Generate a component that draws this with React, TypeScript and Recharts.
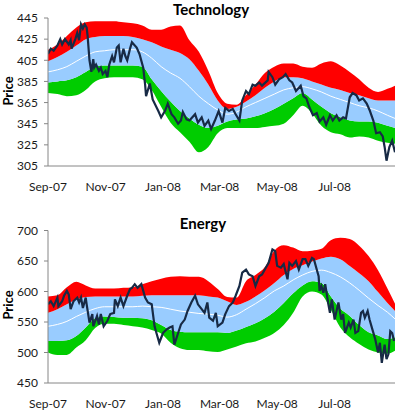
import React from 'react';
import { ComposedChart, Area, Line, XAxis, YAxis } from 'recharts';

// x values are days since 1 Sep 2007
const tickDays = [0, 61, 122, 182, 243, 304];
const tickLabels = ['Sep-07', 'Nov-07', 'Jan-08', 'Mar-08', 'May-08', 'Jul-08'];

const bandDays = [0, 10, 20, 30, 40, 50, 60, 70, 80, 90, 100, 110, 120, 130, 140, 150, 160, 170, 180, 190, 200, 210, 220, 230, 240, 250, 260, 270, 280, 290, 300, 310, 320, 330, 340, 350, 360, 368];

// Technology bands
const techLower2 = [374, 373, 371, 372, 377, 385, 388, 389, 389, 389, 387, 377, 361, 346, 337, 328, 318, 323, 336, 341, 341, 341, 341, 342, 343, 345, 353, 362, 355, 343, 337, 335, 332, 333, 332, 329, 327, 326];
const techLower1 = [384, 385, 386, 389, 394, 399, 400, 400, 400, 400, 399, 387, 376, 366, 357, 350, 344, 341, 343, 347, 349, 350, 352, 355, 359, 364, 369, 374, 368, 361, 355, 351, 348, 347, 347, 346, 343, 341];
const techMA = [394, 396, 399, 404, 409, 413, 414, 415, 415, 415, 413, 407, 399, 393, 388, 380, 371, 364, 358, 354, 356, 361, 365, 369, 373, 377, 379, 380, 378, 375, 371, 368, 365, 362, 360, 357, 353, 350];
const techUpper1 = [404, 408, 413, 419, 425, 427, 428, 428, 428, 427, 425, 422, 418, 415, 412, 406, 395, 382, 367, 359, 361, 366, 372, 379, 385, 389, 389, 388, 385, 382, 379, 377, 374, 372, 369, 367, 367, 367];
const techUpper2 = [415, 420, 428, 436, 441, 442, 442, 442, 441, 440, 438, 434, 434, 437, 438, 424, 413, 395, 374, 364, 363, 372, 382, 393, 399, 402, 402, 399, 398, 402, 404, 400, 394, 387, 379, 375, 378, 381];

const techPriceDays = [0, 3, 6, 10, 13, 15, 18, 22, 24, 25, 29, 31, 33, 35, 37, 39, 41, 42, 44, 46, 48, 49, 51, 54, 56, 58, 61, 63, 65, 68, 70, 73, 75, 77, 80, 82, 84, 87, 89, 94, 97, 101, 103, 104, 108, 111, 117, 120, 124, 127, 131, 134, 138, 141, 143, 147, 150, 156, 159, 163, 166, 170, 173, 177, 181, 185, 188, 192, 196, 199, 203, 206, 210, 213, 217, 220, 224, 227, 233, 234, 238, 241, 245, 249, 252, 256, 259, 263, 268, 271, 274, 277, 281, 285, 288, 292, 295, 299, 302, 306, 309, 313, 316, 320, 323, 327, 330, 334, 338, 341, 345, 348, 352, 355, 357, 359, 362, 365, 368];
const techPrice = [411, 416, 414, 419, 425, 420, 425, 420, 424, 416, 425, 431, 424, 439, 435, 439, 436, 428, 405, 394, 406, 398, 401, 395, 398, 392, 395, 389, 401, 409, 403, 417, 419, 403, 416, 409, 405, 416, 422, 417, 411, 398, 382, 371, 383, 368, 357, 351, 357, 364, 354, 351, 345, 348, 356, 349, 348, 354, 346, 351, 343, 348, 340, 348, 357, 346, 360, 357, 359, 354, 348, 367, 376, 373, 382, 381, 384, 381, 386, 394, 389, 382, 387, 389, 392, 386, 384, 376, 381, 371, 369, 361, 353, 355, 347, 351, 344, 353, 348, 353, 348, 351, 350, 370, 374, 372, 367, 369, 364, 358, 348, 336, 337, 333, 323, 310, 323, 329, 318];

// Energy bands
const energyLower2 = [500, 496, 496, 508, 520, 540, 547, 547, 545, 543, 541, 537, 531, 516, 507, 504, 504, 502, 501, 505, 510, 515, 518, 524, 532, 545, 565, 592, 600, 595, 570, 541, 525, 514, 505, 500, 498, 503];
const energyLower1 = [519, 519, 520, 527, 541, 556, 559, 558, 557, 557, 556, 553, 545, 537, 534, 533, 533, 533, 533, 532, 536, 542, 548, 556, 567, 581, 597, 610, 617, 614, 592, 572, 560, 545, 533, 528, 522, 525];
const energyMA = [543, 546, 551, 559, 566, 572, 575, 575, 575, 575, 576, 575, 574, 571, 568, 566, 564, 563, 561, 558, 562, 571, 580, 590, 601, 609, 619, 627, 633, 635, 631, 624, 614, 602, 589, 577, 566, 555];
const energyUpper1 = [565, 571, 579, 587, 591, 592, 592, 592, 592, 592, 593, 594, 594, 594, 594, 594, 594, 592, 590, 584, 578, 583, 592, 602, 614, 627, 637, 643, 649, 654, 657, 653, 642, 630, 617, 599, 581, 568];
const energyUpper2 = [592, 594, 607, 616, 610, 605, 605, 605, 606, 607, 612, 617, 621, 624, 625, 624, 624, 617, 604, 591, 590, 617, 627, 640, 667, 676, 672, 666, 667, 670, 684, 688, 686, 675, 658, 635, 605, 580];

const energyPriceDays = [0, 3, 6, 10, 11, 15, 17, 20, 22, 24, 27, 31, 33, 35, 37, 40, 41, 44, 47, 48, 52, 54, 56, 59, 63, 66, 70, 71, 74, 77, 80, 84, 87, 89, 92, 95, 99, 103, 106, 110, 113, 115, 118, 122, 126, 129, 132, 134, 138, 141, 145, 148, 152, 156, 159, 163, 166, 169, 171, 175, 178, 180, 185, 188, 192, 196, 199, 203, 206, 210, 213, 217, 220, 224, 227, 231, 234, 238, 241, 243, 247, 250, 254, 256, 259, 263, 266, 270, 273, 276, 280, 282, 285, 287, 288, 290, 292, 294, 297, 299, 301, 304, 308, 311, 313, 315, 319, 321, 324, 326, 329, 332, 334, 336, 339, 341, 344, 347, 350, 352, 354, 357, 359, 361, 363, 365, 367];
const energyPrice = [579, 584, 576, 590, 576, 584, 593, 601, 595, 571, 584, 590, 582, 590, 573, 590, 579, 549, 563, 543, 560, 546, 563, 543, 552, 563, 565, 587, 576, 590, 576, 593, 604, 606, 612, 606, 612, 590, 582, 579, 543, 532, 516, 532, 538, 541, 543, 513, 532, 546, 554, 568, 582, 593, 579, 571, 565, 582, 557, 552, 565, 543, 549, 563, 576, 582, 593, 609, 631, 636, 628, 625, 609, 625, 628, 639, 647, 669, 666, 642, 639, 645, 620, 647, 642, 650, 636, 653, 653, 642, 655, 653, 636, 625, 601, 609, 598, 612, 582, 565, 587, 554, 582, 554, 563, 532, 549, 541, 554, 532, 535, 565, 568, 557, 568, 554, 538, 522, 500, 516, 483, 513, 489, 497, 535, 532, 519];

const techTicks = [305, 325, 345, 365, 385, 405, 425, 445];
const energyTicks = [450, 500, 550, 600, 650, 700];

const FONT = 'Lato, "Noto Sans", sans-serif';
const AXIS = '#868686';
const RED = '#ff0000';
const BLUE = '#99ccff';
const GREEN = '#00cc00';
const NAVY = '#172a45';

function buildBands(l2: number[], l1: number[], ma: number[], u1: number[], u2: number[]) {
  return bandDays.map((day, i) => ({
    day,
    green: [l2[i], l1[i]],
    blue: [l1[i], u1[i]],
    red: [u1[i], u2[i]],
    ma: ma[i],
  }));
}

function buildPrice(days: number[], vals: number[]) {
  return days.map((day, i) => ({ day, price: vals[i] }));
}

const techBands = buildBands(techLower2, techLower1, techMA, techUpper1, techUpper2);
const techPriceData = buildPrice(techPriceDays, techPrice);
const energyBands = buildBands(energyLower2, energyLower1, energyMA, energyUpper1, energyUpper2);
const energyPriceData = buildPrice(energyPriceDays, energyPrice);

type PanelProps = {
  top: number;
  height: number;
  marginTop: number;
  marginBottom: number;
  xAxisHeight: number;
  bands: any[];
  price: any[];
  domain: [number, number];
  ticks: number[];
};

function Panel(p: PanelProps) {
  const tickStyle = { fill: '#1a1a1a', fontSize: 12, fontFamily: FONT };
  return (
    <div style={{ position: 'absolute', left: 0, top: p.top, width: 400, height: p.height }}>
      <ComposedChart
        width={400}
        height={p.height}
        margin={{ top: p.marginTop, right: 5, bottom: p.marginBottom, left: 0 }}
      >
        <XAxis
          type="number"
          dataKey="day"
          domain={[0, 368]}
          ticks={tickDays}
          allowDataOverflow
          tickFormatter={(v: number) => tickLabels[tickDays.indexOf(v)] ?? ''}
          stroke={AXIS}
          tickLine={false}
          tickSize={6}
          tickMargin={10}
          height={p.xAxisHeight}
          tick={tickStyle}
        />
        <YAxis
          type="number"
          domain={p.domain}
          ticks={p.ticks}
          allowDataOverflow
          width={48}
          stroke={AXIS}
          tickSize={4}
          tickMargin={6}
          tick={tickStyle}
        />
        <Area data={p.bands} dataKey="green" type="monotone" fill={GREEN} fillOpacity={1} stroke="none" isAnimationActive={false} />
        <Area data={p.bands} dataKey="blue" type="monotone" fill={BLUE} fillOpacity={1} stroke="none" isAnimationActive={false} />
        <Area data={p.bands} dataKey="red" type="monotone" fill={RED} fillOpacity={1} stroke="none" isAnimationActive={false} />
        <Line data={p.bands} dataKey="ma" type="monotone" stroke="#ffffff" strokeWidth={1} dot={false} isAnimationActive={false} />
        <Line data={p.price} dataKey="price" type="linear" stroke={NAVY} strokeWidth={2.2} dot={false} isAnimationActive={false} />
      </ComposedChart>
    </div>
  );
}

export default function App() {
  return (
    <div style={{ position: 'absolute', left: 0, top: 0, width: 400, height: 410, background: '#fff' }}>
      <Panel
        top={0}
        height={200}
        marginTop={18}
        marginBottom={4}
        xAxisHeight={30}
        bands={techBands}
        price={techPriceData}
        domain={[305, 445]}
        ticks={techTicks}
      />
      <Panel
        top={212}
        height={198}
        marginTop={18.5}
        marginBottom={2}
        xAxisHeight={25}
        bands={energyBands}
        price={energyPriceData}
        domain={[450, 700]}
        ticks={energyTicks}
      />
      <svg width={400} height={410} style={{ position: 'absolute', left: 0, top: 0, pointerEvents: 'none' }}>
        <text x={211} y={14.5} textAnchor="middle" fontFamily={FONT} fontWeight="bold" fontSize={15} fill="#000">Technology</text>
        <text x={203} y={228.5} textAnchor="middle" fontFamily={FONT} fontWeight="bold" fontSize={15} fill="#000">Energy</text>
        <text transform="rotate(-90)" x={-91} y={13.3} textAnchor="middle" fontFamily={FONT} fontWeight="bold" fontSize={13} fill="#000">Price</text>
        <text transform="rotate(-90)" x={-305} y={13.3} textAnchor="middle" fontFamily={FONT} fontWeight="bold" fontSize={13} fill="#000">Price</text>
      </svg>
    </div>
  );
}
